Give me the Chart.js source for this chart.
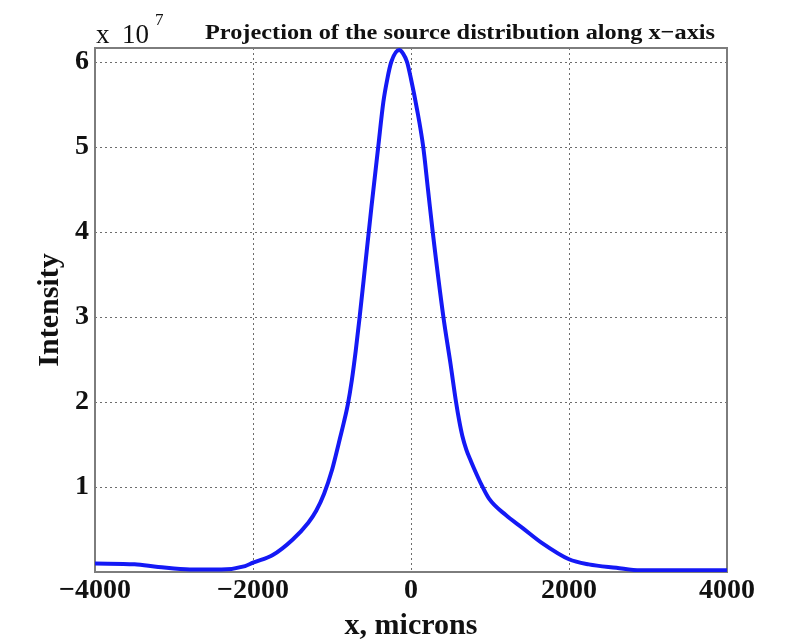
<!DOCTYPE html>
<html>
<head>
<meta charset="utf-8">
<script src="https://cdn.jsdelivr.net/npm/chart.js@4/dist/chart.umd.min.js"></script>
<style>
    html, body { margin: 0; padding: 0; background: #fff; }
    #wrap { width: 788px; height: 642px; }
</style>
</head>
<body>
<div id="wrap"><canvas id="projChart" width="788" height="642"></canvas></div>
<script>
// profile, intensity in units of 1e7
const xMicrons = [
    -4000, -3500, -3200, -2800, -2400, -2100, -2000, -1750, -1500, -1300,
    -1200, -1100, -1000, -950, -900, -850, -800, -750, -700, -650,
    -600, -500, -415, -350, -300, -250, -150, -100, -50, 0,
    75, 155, 215, 275, 410, 500, 570, 610, 650, 700,
    760, 830, 885, 990, 1200, 1410, 1660, 2000, 2250, 2600,
    2900, 3500, 4000
];
const intensityE7 = [
    0.10, 0.09, 0.06, 0.03, 0.03, 0.07, 0.11, 0.20, 0.38, 0.58,
    0.72, 0.92, 1.20, 1.38, 1.57, 1.76, 1.97, 2.25, 2.60, 3.00,
    3.43, 4.30, 5.00, 5.53, 5.80, 6.00, 6.14, 6.10, 6.00, 5.80,
    5.45, 5.00, 4.50, 4.00, 3.00, 2.45, 2.00, 1.78, 1.60, 1.44,
    1.30, 1.15, 1.04, 0.86, 0.67, 0.52, 0.34, 0.15, 0.09, 0.05,
    0.02, 0.02, 0.02
];
const xTicks = [-4000, -2000, 0, 2000, 4000];
const yTicks = [0, 1, 2, 3, 4, 5, 6];
const yExponent = "7";
const titleText = "Projection of the source distribution along x\u2212axis";
const xLabel = "x, microns";
const yLabel = "Intensity";

(() => {
    const serif = "'Liberation Serif', 'DejaVu Serif', serif";
    const gridColor = "rgba(60,60,60,0.75)";

    const fmtMinus = (v) => (v < 0 ? "\u2212" + Math.abs(v) : String(v));

    // axes box, title and the x 10^7 factor
    const decorPlugin = {
        id: "decor",
        beforeDatasetsDraw(chart) {
            const { ctx, chartArea: a } = chart;
            ctx.save();
            ctx.strokeStyle = "#7d7d7d";
            ctx.lineWidth = 2;
            ctx.strokeRect(a.left, a.top, a.right - a.left, a.bottom - a.top);
            ctx.restore();
        },
        afterDraw(chart) {
            const { ctx, chartArea: a } = chart;
            ctx.save();
            ctx.fillStyle = "#111";
            ctx.textBaseline = "alphabetic";

            // exponent
            ctx.textAlign = "left";
            ctx.font = "27px " + serif;
            ctx.fillText("x", a.left + 1, a.top - 5);
            ctx.fillText("10", a.left + 27, a.top - 5);
            ctx.font = "17px " + serif;
            ctx.fillText(yExponent, a.left + 60, a.top - 23);

            // title, fitted to its width in the picture
            ctx.font = "bold 22px " + serif;
            const tw = ctx.measureText(titleText).width;
            const target = 510;
            ctx.translate(460, a.top - 9);
            ctx.scale(target / tw, 1);
            ctx.textAlign = "center";
            ctx.fillText(titleText, 0, 0);
            ctx.restore();
        }
    };

    const ctx = document.getElementById("projChart");

    new Chart(ctx, {
        type: "line",
        data: {
            datasets: [{
                data: xMicrons.map((x, i) => ({ x, y: intensityE7[i] })),
                borderColor: "rgb(20,25,245)",
                borderWidth: 4,
                pointRadius: 0,
                fill: false,
                cubicInterpolationMode: "monotone"
            }]
        },
        options: {
            responsive: false,
            animation: false,
            devicePixelRatio: 1,
            layout: { padding: { left: 0, right: 61, top: 48, bottom: 0 } },
            plugins: {
                legend: { display: false },
                tooltip: { enabled: false }
            },
            scales: {
                x: {
                    type: "linear",
                    min: -4000,
                    max: 4000,
                    afterBuildTicks: (s) => { s.ticks = xTicks.map((v) => ({ value: v })); },
                    afterFit: (s) => { s.height = 70; },
                    grid: { color: gridColor, lineWidth: 1, drawTicks: false },
                    border: { display: false, dash: [2, 3] },
                    ticks: {
                        color: "#111",
                        font: { family: serif, size: 28, weight: "bold" },
                        padding: 2,
                        maxRotation: 0,
                        autoSkip: false,
                        callback: (v) => fmtMinus(v)
                    },
                    title: {
                        display: true,
                        text: xLabel,
                        color: "#111",
                        font: { family: serif, size: 30, weight: "bold" },
                        padding: { top: 0, bottom: -2 }
                    }
                },
                y: {
                    min: 0,
                    max: 6.165,
                    afterBuildTicks: (s) => { s.ticks = yTicks.map((v) => ({ value: v })); },
                    afterFit: (s) => { s.width = 95; },
                    grid: { color: gridColor, lineWidth: 1, drawTicks: false },
                    border: { display: false, dash: [2, 3] },
                    ticks: {
                        color: "#111",
                        font: { family: serif, size: 28, weight: "bold" },
                        padding: 6,
                        callback: (v) => (v === 0 ? "" : String(v))
                    },
                    title: {
                        display: true,
                        text: yLabel,
                        color: "#111",
                        font: { family: serif, size: 30, weight: "bold" },
                        padding: { top: 32, bottom: 0 }
                    }
                }
            }
        },
        plugins: [decorPlugin]
    });
})();
</script>
</body>
</html>
